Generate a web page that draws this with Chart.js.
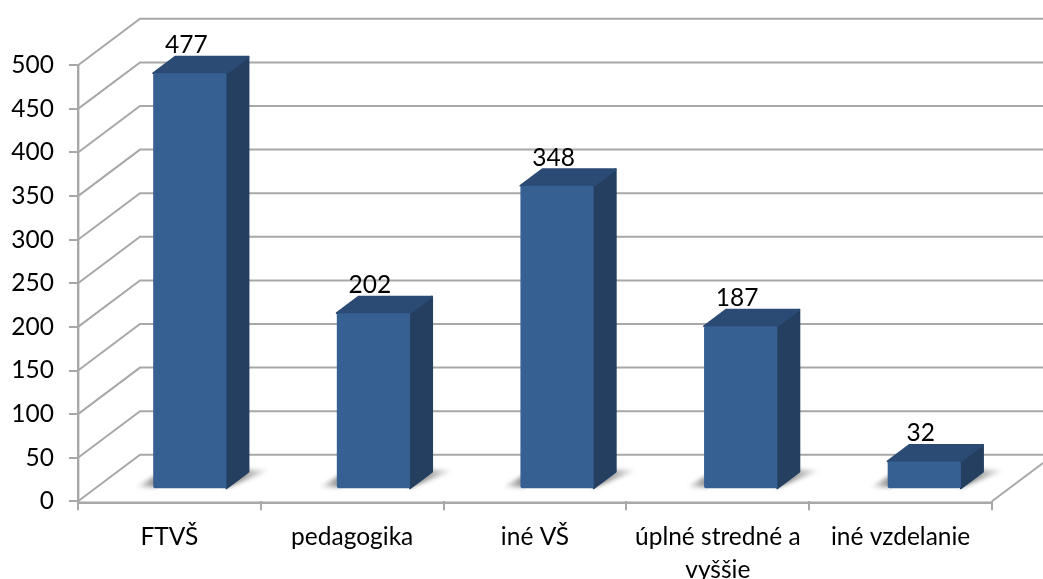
<!DOCTYPE html>
<html><head><meta charset="utf-8">
<style>html,body{margin:0;padding:0;background:#fff}canvas{display:block;filter:blur(0.5px)}</style>
<script src="https://cdn.jsdelivr.net/npm/chart.js@4"></script>
</head><body>
<div style="width:1043px;height:579px"><canvas id="c" width="1043" height="579"></canvas></div>
<script>
const categories = ["FTVŠ", "pedagogika", "iné VŠ", ["úplné stredné a", "vyššie"], "iné vzdelanie"];
const values = [477, 202, 348, 187, 32];
const yMax = 500, yStep = 50;

const GRID = "#a8a8a8", FRONT = "#376092", SIDE = "#243f60", TOP = "#2b4a74";
const WALL = {dx: 62, dy: -46.5};
const BAR = {dx: 20, dy: -12, depthX: 22, depthY: -16.5, stretch: 0.0045};
const FONT_SIZE = 24.5;
const FONT = FONT_SIZE + "px Lato";

const scene3d = {
  id: "scene3d",
  beforeDatasetsDraw(chart) {
    const c = chart.ctx, a = chart.chartArea, y = chart.scales.y;
    const mapX = x => x + BAR.dx + (x - a.left) * BAR.stretch;
    c.save();
    c.strokeStyle = GRID; c.lineWidth = 2;
    y.ticks.forEach(t => {
      const p = y.getPixelForValue(t.value);
      c.beginPath();
      c.moveTo(a.left, p);
      c.lineTo(a.left + WALL.dx, p + WALL.dy);
      c.lineTo(chart.width, p + WALL.dy);
      c.stroke();
    });
    // floor edges
    c.lineWidth = 2.4;
    c.beginPath();
    c.moveTo(a.left, a.bottom + 1.5); c.lineTo(a.right, a.bottom + 1.5);
    c.stroke();
    c.lineWidth = 2;
    c.beginPath();
    c.moveTo(a.right, a.bottom);
    c.lineTo(chart.width, a.bottom + WALL.dy * (chart.width - a.right) / WALL.dx);
    c.stroke();
    // bar shadows and 3D faces
    const bars = chart.getDatasetMeta(0).data;
    bars.forEach(b => {
      const x0 = mapX(b.x - b.width / 2), x1 = mapX(b.x + b.width / 2);
      const by = b.base + BAR.dy, ty = b.y + BAR.dy;
      c.save();
      c.filter = "blur(2px)";
      let g = c.createLinearGradient(x1, 0, x1 + 44, 0);
      g.addColorStop(0, "rgba(0,0,0,0.6)"); g.addColorStop(1, "rgba(0,0,0,0)");
      c.fillStyle = g;
      c.beginPath();
      c.moveTo(x1 - 2, by); c.lineTo(x1 + 44, by - 18); c.lineTo(x1 + 14, by - 19);
      c.closePath(); c.fill();
      g = c.createLinearGradient(x0 - 18, 0, x0 + 2, 0);
      g.addColorStop(0, "rgba(0,0,0,0)"); g.addColorStop(1, "rgba(0,0,0,0.45)");
      c.fillStyle = g;
      c.beginPath();
      c.moveTo(x0 + 3, by - 1); c.lineTo(x0 - 18, by - 1); c.lineTo(x0 + 3, by - 13);
      c.closePath(); c.fill();
      c.restore();
      c.lineJoin = "round"; c.lineWidth = 2;
      c.fillStyle = SIDE; c.strokeStyle = SIDE;
      c.beginPath();
      c.moveTo(x1, ty); c.lineTo(x1 + BAR.depthX, ty + BAR.depthY);
      c.lineTo(x1 + BAR.depthX, by + BAR.depthY); c.lineTo(x1, by);
      c.closePath(); c.fill(); c.stroke();
      c.fillStyle = TOP; c.strokeStyle = TOP;
      c.beginPath();
      c.moveTo(x0, ty); c.lineTo(x0 + BAR.depthX, ty + BAR.depthY);
      c.lineTo(x1 + BAR.depthX, ty + BAR.depthY); c.lineTo(x1, ty);
      c.closePath(); c.fill(); c.stroke();
    });
    c.restore();
    c.save();
    c.transform(1 + BAR.stretch, 0, 0, 1, BAR.dx - a.left * BAR.stretch, BAR.dy);
  },
  afterDatasetsDraw(chart) {
    const c = chart.ctx, a = chart.chartArea;
    const mapX = x => x + BAR.dx + (x - a.left) * BAR.stretch;
    c.restore();
    c.save();
    c.font = FONT; c.fillStyle = "#000";
    c.textAlign = "center"; c.textBaseline = "middle";
    chart.getDatasetMeta(0).data.forEach((b, i) => {
      c.fillText(String(values[i]), mapX(b.x) - 3.5, b.y + BAR.dy - 28);
    });
    c.restore();
  }
};

new Chart(document.getElementById("c"), {
  type: "bar",
  data: { labels: categories, datasets: [{
    data: values, backgroundColor: FRONT, borderRadius: 2, borderSkipped: false,
    barPercentage: 73 / 183, categoryPercentage: 1, clip: false
  }]},
  plugins: [scene3d],
  options: {
    responsive: false, animation: false,
    layout: { padding: { left: 0, top: 65.3, right: 51, bottom: 0 } },
    plugins: { legend: { display: false }, tooltip: { enabled: false }, title: { display: false } },
    scales: {
      y: {
        min: 0, max: yMax,
        afterFit(s) { s.width = 78; },
        ticks: { stepSize: yStep, color: "#000", padding: 15, font: { family: "Lato", size: FONT_SIZE } },
        grid: { drawOnChartArea: false, drawTicks: true, tickLength: 9, color: GRID, lineWidth: 2 },
        border: { display: true, color: GRID, width: 2.4 }
      },
      x: {
        afterFit(s) { s.height = 579 - 501.3; },
        ticks: { color: "#000", padding: 10, autoSkip: false, maxRotation: 0, minRotation: 0,
                 font: { family: "Lato", size: FONT_SIZE, lineHeight: 1.35 } },
        grid: { drawOnChartArea: false, drawTicks: true, tickLength: 9, color: GRID, lineWidth: 2, offset: true },
        border: { display: false }
      }
    }
  }
});
</script>
</body></html>
